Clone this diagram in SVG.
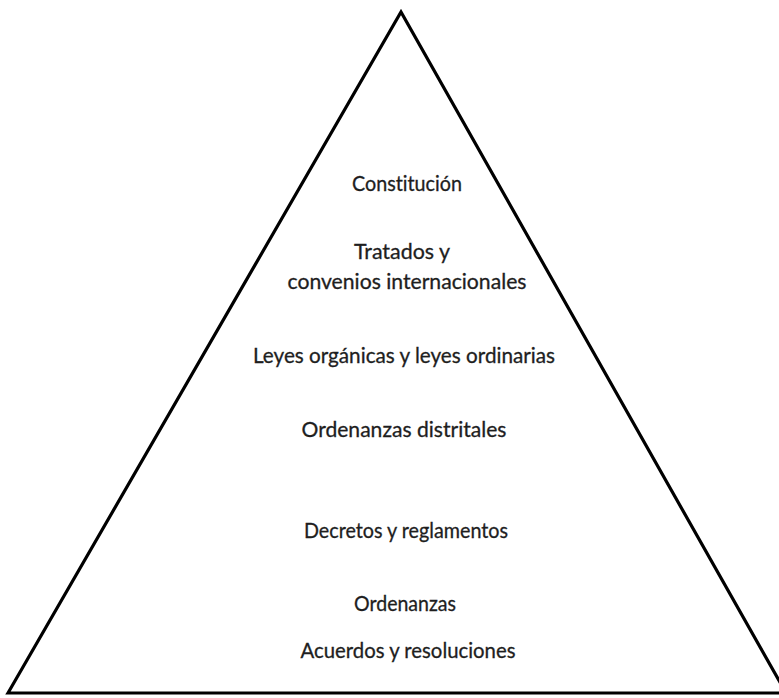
<svg xmlns="http://www.w3.org/2000/svg" width="779" height="698" viewBox="0 0 779 698">
<style>
.t{font-family:Lato,"Open Sans","Liberation Sans",sans-serif;font-size:21px;fill:#1e1e1e;stroke:#1e1e1e;stroke-width:0.3;text-anchor:middle;font-variant-ligatures:none;font-feature-settings:"liga" 0}
.edge{fill:none;stroke:#000;stroke-width:3.2;stroke-linejoin:miter}
</style>
<rect width="779" height="698" fill="#fff"/>
<g id="connectors">
<path class="edge" d="M8,693 L401,12 L786,693 Z"/>
</g>
<g id="n1"><text class="t" x="407" y="191" textLength="110" lengthAdjust="spacingAndGlyphs">Constitución</text></g>
<g id="n2"><text class="t" x="402" y="259" textLength="96" lengthAdjust="spacingAndGlyphs">Tratados y</text>
<text class="t" x="407" y="289" textLength="239" lengthAdjust="spacingAndGlyphs">convenios internacionales</text></g>
<g id="n3"><text class="t" x="404" y="363" textLength="302" lengthAdjust="spacingAndGlyphs">Leyes orgánicas y leyes ordinarias</text></g>
<g id="n4"><text class="t" x="404" y="437" textLength="205" lengthAdjust="spacingAndGlyphs">Ordenanzas distritales</text></g>
<g id="n5"><text class="t" x="406" y="538" textLength="204" lengthAdjust="spacingAndGlyphs">Decretos y reglamentos</text></g>
<g id="n6"><text class="t" x="405" y="611" textLength="102" lengthAdjust="spacingAndGlyphs">Ordenanzas</text></g>
<g id="n7"><text class="t" x="408" y="658" textLength="215" lengthAdjust="spacingAndGlyphs">Acuerdos y resoluciones</text></g>
</svg>
